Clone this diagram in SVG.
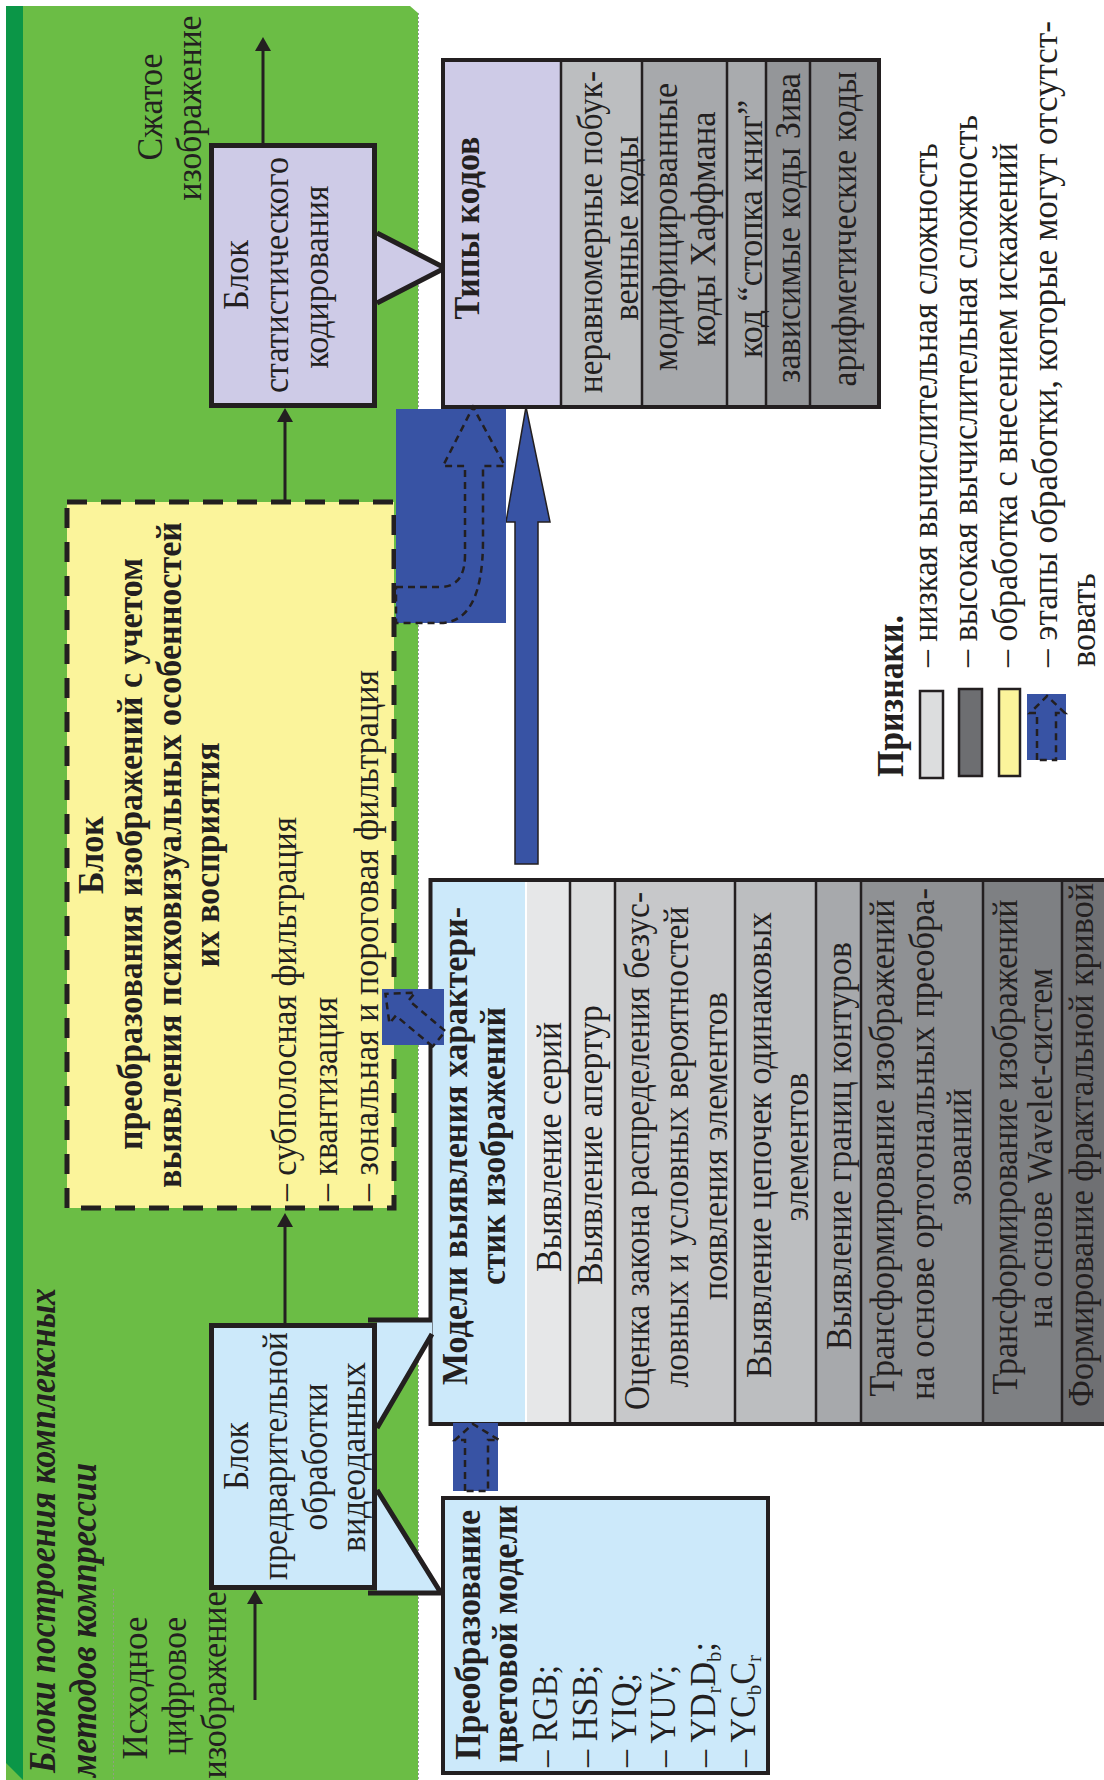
<svg xmlns="http://www.w3.org/2000/svg" width="1104" height="1780" viewBox="0 0 1104 1780">
<style>
text{font-family:"Liberation Serif","Times New Roman",serif;fill:#231F20;}
.r{font-size:36px;}
.b{font-size:36px;font-weight:bold;}
.bi{font-size:37px;font-weight:bold;font-style:italic;}
.m{text-anchor:middle;}
.ln{stroke:#231F20;stroke-width:3;fill:none;}
.dash{fill:none;stroke:#231F20;stroke-width:2.5;stroke-dasharray:7 5;}
.sep{stroke:#231F20;stroke-width:2.5;}
.thick{stroke:#231F20;stroke-width:5;}
</style>
<defs>
<marker id="ah" markerUnits="userSpaceOnUse" markerWidth="14" markerHeight="16" viewBox="0 0 14 16" refX="0" refY="8" orient="auto"><path d="M0,0 L14,8 L0,16 z" fill="#231F20"/></marker>
</defs>
<rect width="1104" height="1780" fill="#ffffff"/>
<g id="panel">
<polygon points="6,6 410,6 418,13 418,1780 6,1780" fill="#6BBD45"/>
<polygon points="6,6 23,6 23,1780 6,1763" fill="#0B9647"/>
<line x1="418.5" y1="13" x2="418.5" y2="1780" stroke="#9a9a9a" stroke-width="1" stroke-dasharray="2 2"/>
<line x1="113.5" y1="1589" x2="113.5" y2="1780" stroke="#8fa080" stroke-width="1" stroke-dasharray="2 2"/>
<text class="bi" transform="translate(55,1773) rotate(-90)" textLength="485" lengthAdjust="spacingAndGlyphs">Блоки построения комплексных</text>
<text class="bi" transform="translate(96,1777) rotate(-90)" textLength="314" lengthAdjust="spacingAndGlyphs">методов компрессии</text>
</g>
<g id="input-label">
<text class="r m" transform="translate(147,1688) rotate(-90)" textLength="143" lengthAdjust="spacingAndGlyphs">Исходное</text>
<text class="r m" transform="translate(186,1686) rotate(-90)" textLength="138" lengthAdjust="spacingAndGlyphs">цифровое</text>
<text class="r m" transform="translate(226,1685) rotate(-90)" textLength="187" lengthAdjust="spacingAndGlyphs">изображение</text>
</g>
<g id="output-label">
<text class="r m" transform="translate(162,107) rotate(-90)" textLength="107" lengthAdjust="spacingAndGlyphs">Сжатое</text>
<text class="r m" transform="translate(201,108) rotate(-90)" textLength="185" lengthAdjust="spacingAndGlyphs">изображение</text>
</g>
<g id="stat-block">
<path d="M377,233 L445,268 L377,303" fill="#CECBE7" class="thick"/>
<rect x="211.5" y="145.5" width="163" height="260" fill="#CECBE7" class="thick"/>
<text class="r m" transform="translate(248,275) rotate(-90)" textLength="70" lengthAdjust="spacingAndGlyphs">Блок</text>
<text class="r m" transform="translate(288,275) rotate(-90)" textLength="236" lengthAdjust="spacingAndGlyphs">статистического</text>
<text class="r m" transform="translate(328,277) rotate(-90)" textLength="183" lengthAdjust="spacingAndGlyphs">кодирования</text>
</g>
<g id="code-types">
<rect x="443" y="60" width="118" height="347" fill="#CECBE7"/>
<rect x="561" y="60" width="81" height="347" fill="#BCBEC0"/>
<rect x="642" y="60" width="85" height="347" fill="#A7A9AC"/>
<rect x="727" y="60" width="39" height="347" fill="#A9ABAE"/>
<rect x="766" y="60" width="44" height="347" fill="#949699"/>
<rect x="810" y="60" width="69" height="347" fill="#939598"/>
<line class="sep" x1="561" y1="60" x2="561" y2="407"/>
<line class="sep" x1="642" y1="60" x2="642" y2="407"/>
<line class="sep" x1="727" y1="60" x2="727" y2="407"/>
<line class="sep" x1="766" y1="60" x2="766" y2="407"/>
<line class="sep" x1="810" y1="60" x2="810" y2="407"/>
<rect x="443" y="60" width="436" height="347" fill="none" stroke="#231F20" stroke-width="4"/>
<text class="b m" transform="translate(479,228) rotate(-90)" textLength="183" lengthAdjust="spacingAndGlyphs">Типы кодов</text>
<text class="r m" transform="translate(602,232) rotate(-90)" textLength="322" lengthAdjust="spacingAndGlyphs">неравномерные побук-</text>
<text class="r m" transform="translate(638,228) rotate(-90)" textLength="185" lengthAdjust="spacingAndGlyphs">венные коды</text>
<text class="r m" transform="translate(677,227) rotate(-90)" textLength="288" lengthAdjust="spacingAndGlyphs">модифицированные</text>
<text class="r m" transform="translate(715,229) rotate(-90)" textLength="235" lengthAdjust="spacingAndGlyphs">коды Хаффмана</text>
<text class="r m" transform="translate(762,229) rotate(-90)" textLength="258" lengthAdjust="spacingAndGlyphs">код “стопка книг”</text>
<text class="r m" transform="translate(800,228) rotate(-90)" textLength="310" lengthAdjust="spacingAndGlyphs">зависимые коды Зива</text>
<text class="r m" transform="translate(856,229) rotate(-90)" textLength="315" lengthAdjust="spacingAndGlyphs">арифметические коды</text>
</g>
<g id="psycho-block">
<rect x="67" y="502" width="327" height="706" fill="#FBF49B" stroke="#231F20" stroke-width="5" stroke-dasharray="20 14"/>
<text class="b m" transform="translate(103,855) rotate(-90)" textLength="78" lengthAdjust="spacingAndGlyphs">Блок</text>
<text class="b m" transform="translate(142,854) rotate(-90)" textLength="592" lengthAdjust="spacingAndGlyphs">преобразования изображений с учетом</text>
<text class="b m" transform="translate(181,855) rotate(-90)" textLength="666" lengthAdjust="spacingAndGlyphs">выявления психовизуальных особенностей</text>
<text class="b m" transform="translate(219,855) rotate(-90)" textLength="225" lengthAdjust="spacingAndGlyphs">их восприятия</text>
<text class="r" transform="translate(296,1201) rotate(-90)" textLength="384" lengthAdjust="spacingAndGlyphs">– субполосная фильтрация</text>
<text class="r" transform="translate(337,1201) rotate(-90)" textLength="204" lengthAdjust="spacingAndGlyphs">– квантизация</text>
<text class="r" transform="translate(378,1201) rotate(-90)" textLength="531" lengthAdjust="spacingAndGlyphs">– зональная и пороговая фильтрация</text>
</g>
<g id="models-block">
<rect x="432" y="880" width="94" height="544" fill="#CCE9FA"/>
<rect x="526" y="880" width="44" height="544" fill="#E6E7E8"/>
<rect x="570" y="880" width="45" height="544" fill="#DCDDDE"/>
<rect x="615" y="880" width="120" height="544" fill="#C7C8CA"/>
<rect x="735" y="880" width="81" height="544" fill="#BCBEC0"/>
<rect x="816" y="880" width="45" height="544" fill="#A7A9AC"/>
<rect x="861" y="880" width="122" height="544" fill="#8F9194"/>
<rect x="983" y="880" width="79" height="544" fill="#7E8083"/>
<rect x="1062" y="880" width="48" height="544" fill="#6F7073"/>
<line x1="526" y1="880" x2="526" y2="1424" stroke="#ffffff" stroke-width="2"/>
<line class="sep" x1="570" y1="880" x2="570" y2="1424"/>
<line class="sep" x1="615" y1="880" x2="615" y2="1424"/>
<line class="sep" x1="735" y1="880" x2="735" y2="1424"/>
<line class="sep" x1="816" y1="880" x2="816" y2="1424"/>
<line class="sep" x1="861" y1="880" x2="861" y2="1424"/>
<line class="sep" x1="983" y1="880" x2="983" y2="1424"/>
<line class="sep" x1="1062" y1="880" x2="1062" y2="1424"/>
<rect x="430.5" y="880" width="690" height="544" fill="none" stroke="#231F20" stroke-width="4"/>
<text class="b m" transform="translate(467,1146) rotate(-90)" textLength="478" lengthAdjust="spacingAndGlyphs">Модели выявления характери-</text>
<text class="b m" transform="translate(505,1146) rotate(-90)" textLength="278" lengthAdjust="spacingAndGlyphs">стик изображений</text>
<text class="r m" transform="translate(561,1147) rotate(-90)" textLength="250" lengthAdjust="spacingAndGlyphs">Выявление серий</text>
<text class="r m" transform="translate(602,1145) rotate(-90)" textLength="280" lengthAdjust="spacingAndGlyphs">Выявление апертур</text>
<text class="r m" transform="translate(649,1151) rotate(-90)" textLength="518" lengthAdjust="spacingAndGlyphs">Оценка закона распределения безус-</text>
<text class="r m" transform="translate(688,1147) rotate(-90)" textLength="481" lengthAdjust="spacingAndGlyphs">ловных и условных вероятностей</text>
<text class="r m" transform="translate(727,1146) rotate(-90)" textLength="308" lengthAdjust="spacingAndGlyphs">появления элементов</text>
<text class="r m" transform="translate(771,1145) rotate(-90)" textLength="466" lengthAdjust="spacingAndGlyphs">Выявление цепочек одинаковых</text>
<text class="r m" transform="translate(808,1147) rotate(-90)" textLength="149" lengthAdjust="spacingAndGlyphs">элементов</text>
<text class="r m" transform="translate(851,1146) rotate(-90)" textLength="408" lengthAdjust="spacingAndGlyphs">Выявление границ контуров</text>
<text class="r m" transform="translate(894,1148) rotate(-90)" textLength="497" lengthAdjust="spacingAndGlyphs">Трансформирование изображений</text>
<text class="r m" transform="translate(934,1144) rotate(-90)" textLength="512" lengthAdjust="spacingAndGlyphs">на основе ортогональных преобра-</text>
<text class="r m" transform="translate(971,1147) rotate(-90)" textLength="117" lengthAdjust="spacingAndGlyphs">зований</text>
<text class="r m" transform="translate(1017,1147) rotate(-90)" textLength="495" lengthAdjust="spacingAndGlyphs">Трансформирование изображений</text>
<text class="r m" transform="translate(1052,1148) rotate(-90)" textLength="360" lengthAdjust="spacingAndGlyphs">на основе Wavelet-систем</text>
<text class="r m" transform="translate(1093,1145) rotate(-90)" textLength="524" lengthAdjust="spacingAndGlyphs">Формирование фрактальной кривой</text>
</g>
<g id="preproc-block">
<polygon points="377,1320 432,1320 432,1334 377,1428" fill="#CCE9FA"/>
<path d="M368,1320 H432 M432,1334 L377,1428" class="thick" fill="none"/>
<polygon points="377,1490 441,1593 377,1593" fill="#CCE9FA"/>
<path d="M377,1490 L441,1593 M368,1593 H443" class="thick" fill="none"/>
<rect x="211.5" y="1325.5" width="163" height="262" fill="#CCE9FA" class="thick"/>
<text class="r m" transform="translate(248,1456) rotate(-90)" textLength="68" lengthAdjust="spacingAndGlyphs">Блок</text>
<text class="r m" transform="translate(287,1456) rotate(-90)" textLength="248" lengthAdjust="spacingAndGlyphs">предварительной</text>
<text class="r m" transform="translate(327,1457) rotate(-90)" textLength="147" lengthAdjust="spacingAndGlyphs">обработки</text>
<text class="r m" transform="translate(365,1457) rotate(-90)" textLength="190" lengthAdjust="spacingAndGlyphs">видеоданных</text>
</g>
<g id="color-model-block">
<rect x="443" y="1498" width="325" height="275" fill="#CCE9FA" stroke="#231F20" stroke-width="4"/>
<text class="b" transform="translate(480,1760) rotate(-90)" textLength="250" lengthAdjust="spacingAndGlyphs">Преобразование</text>
<text class="b" transform="translate(517,1763) rotate(-90)" textLength="258" lengthAdjust="spacingAndGlyphs">цветовой модели</text>
<text class="r" transform="translate(557,1767) rotate(-90)" textLength="102" lengthAdjust="spacingAndGlyphs">– RGB;</text>
<text class="r" transform="translate(597,1767) rotate(-90)" textLength="102" lengthAdjust="spacingAndGlyphs">– HSB;</text>
<text class="r" transform="translate(636,1767) rotate(-90)" textLength="94" lengthAdjust="spacingAndGlyphs">– YIQ;</text>
<text class="r" transform="translate(675,1767) rotate(-90)" textLength="102" lengthAdjust="spacingAndGlyphs">– YUV;</text>
<text class="r" transform="translate(715,1767) rotate(-90)" textLength="125" lengthAdjust="spacingAndGlyphs">– YD<tspan font-size="22" dy="6">r</tspan><tspan dy="-6">D</tspan><tspan font-size="22" dy="6">b</tspan><tspan dy="-6">;</tspan></text>
<text class="r" transform="translate(755,1767) rotate(-90)" textLength="112" lengthAdjust="spacingAndGlyphs">– YC<tspan font-size="22" dy="6">b</tspan><tspan dy="-6">C</tspan><tspan font-size="22" dy="6">r</tspan></text>
</g>
<g id="legend">
<text class="b" style="font-size:38px" transform="translate(903,777) rotate(-90)" textLength="162" lengthAdjust="spacingAndGlyphs">Признаки.</text>
<rect x="920" y="691" width="23" height="87" fill="#DCDDDE" stroke="#231F20" stroke-width="2.5"/>
<rect x="959" y="689" width="23" height="87" fill="#6D6E71" stroke="#231F20" stroke-width="2.5"/>
<rect x="999" y="689" width="21" height="87" fill="#FBF49B" stroke="#231F20" stroke-width="2.5"/>
<rect x="1027" y="694" width="39" height="66" fill="#3853A4"/>
<path class="dash" d="M1037,760 V713 H1030 L1047,696 L1065,713 H1056 V760 Z"/>
<text class="r" transform="translate(937,667) rotate(-90)" textLength="524" lengthAdjust="spacingAndGlyphs">– низкая вычислительная сложность</text>
<text class="r" transform="translate(977,667) rotate(-90)" textLength="552" lengthAdjust="spacingAndGlyphs">– высокая вычислительная сложность</text>
<text class="r" transform="translate(1017,667) rotate(-90)" textLength="524" lengthAdjust="spacingAndGlyphs">– обработка с внесением искажений</text>
<text class="r" transform="translate(1057,667) rotate(-90)" textLength="646" lengthAdjust="spacingAndGlyphs">– этапы обработки,  которые  могут  отсутст-</text>
<text class="r" transform="translate(1095,667) rotate(-90)" textLength="94" lengthAdjust="spacingAndGlyphs">вовать</text>
</g>
<g id="connectors">
<line class="ln" x1="263" y1="143" x2="263" y2="51" marker-end="url(#ah)"/>
<line class="ln" x1="285" y1="500" x2="285" y2="422" marker-end="url(#ah)"/>
<line class="ln" x1="285" y1="1323" x2="285" y2="1227" marker-end="url(#ah)"/>
<line class="ln" x1="255" y1="1700" x2="255" y2="1604" marker-end="url(#ah)"/>
<polygon points="515,864 538,864 538,522 550,522 526,407 506,522 515,522" fill="#3853A4" stroke="#231F20" stroke-width="1.5"/>
<rect x="396" y="409" width="110" height="214" fill="#3853A4"/>
<path class="dash" d="M396,587 H440 Q465,587 465,555 V466 H443 L473,407 L505,466 H483 V540 Q483,623 440,623 H396 Z"/>
<rect x="382" y="989" width="62" height="56" fill="#3853A4"/>
<path class="dash" transform="translate(413,1017) rotate(-50)" d="M-10,34 V-14 H-20 L0,-36 L20,-14 H10 V34 Z"/>
<rect x="453" y="1423" width="45" height="68" fill="#3853A4"/>
<path class="dash" d="M465,1491 V1440 H455 L473,1424 L499,1440 H488 V1491 Z"/>
</g>
</svg>
